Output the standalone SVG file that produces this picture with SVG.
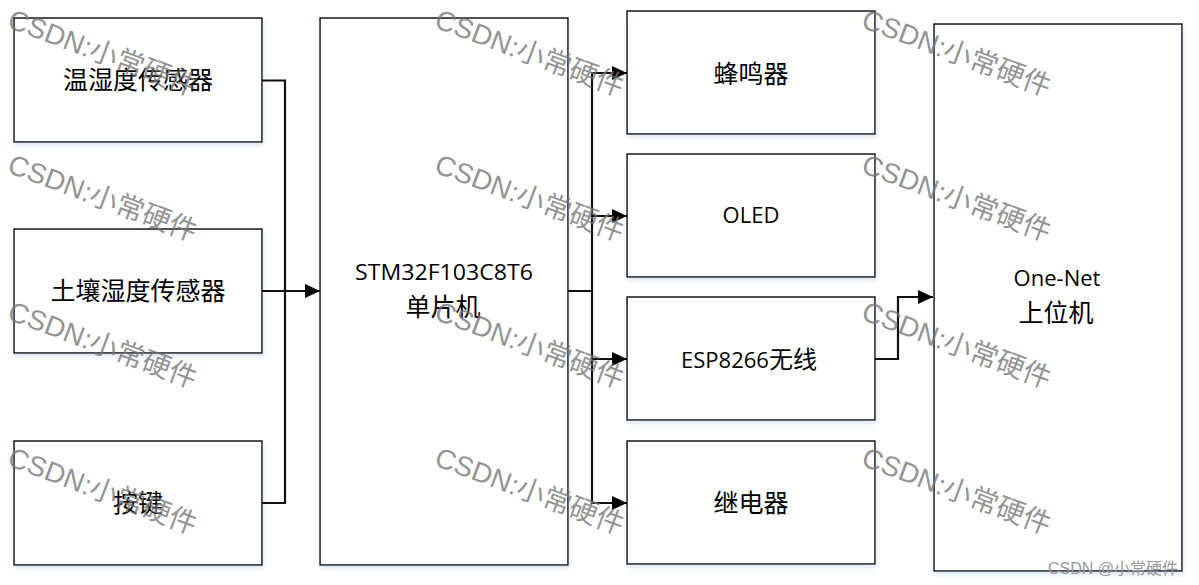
<svg xmlns="http://www.w3.org/2000/svg" width="1199" height="585" viewBox="0 0 1199 585">
<style>
.box{fill:#fff;stroke:#000;stroke-width:1.4;filter:url(#sh)}
.t{font-family:"Open Sans","Noto Sans CJK SC",sans-serif;font-size:22px;fill:#000;text-anchor:middle}
.c{font-family:"Noto Sans CJK SC",sans-serif;font-size:25px;fill:#000;text-anchor:middle}
.cj{font-family:"Noto Sans CJK SC",sans-serif;font-size:24px}
.ln{fill:none;stroke:#111;stroke-width:2.2}
.ar{fill:none;stroke:#111;stroke-width:2.2;marker-end:url(#ah)}
.wm{font-family:"Liberation Sans","Noto Sans CJK SC",sans-serif;font-size:28px;fill:#777;fill-opacity:0.8}
.ft{font-family:"Liberation Sans","Noto Sans CJK SC",sans-serif;font-size:16px;fill:#999}
</style>
<defs>
<filter id="sh" x="-10%" y="-10%" width="120%" height="120%">
<feDropShadow dx="1" dy="3" stdDeviation="2" flood-color="#9bb8d8" flood-opacity="0.35"/>
</filter>
<marker id="ah" markerUnits="userSpaceOnUse" markerWidth="16" markerHeight="15" refX="15" refY="7" orient="auto">
<path d="M0,0 L15,7 L0,14 z" fill="#000"/>
</marker>
</defs>
<rect width="1199" height="585" fill="#fff"/>
<g id="sensor-th"><rect class="box" x="14" y="18" width="248" height="124"/><text class="c" x="138" y="89">温湿度传感器</text></g>
<g id="sensor-soil"><rect class="box" x="14" y="229" width="248" height="124"/><text class="c" x="138" y="300">土壤湿度传感器</text></g>
<g id="key"><rect class="box" x="14" y="441" width="248" height="124"/><text class="c" x="138" y="512">按键</text></g>
<g id="mcu"><rect class="box" x="320" y="18" width="248" height="547"/><text class="t" x="444" y="280" textLength="178" lengthAdjust="spacingAndGlyphs">STM32F103C8T6</text><text class="c" x="443" y="316">单片机</text></g>
<g id="buzzer"><rect class="box" x="627" y="11" width="248" height="123"/><text class="c" x="751" y="83">蜂鸣器</text></g>
<g id="oled"><rect class="box" x="627" y="154" width="248" height="123"/><text class="t" x="751" y="223">OLED</text></g>
<g id="esp"><rect class="box" x="627" y="297" width="248" height="123"/><text class="t" x="749" y="368">ESP8266<tspan class="cj">无线</tspan></text></g>
<g id="relay"><rect class="box" x="627" y="441" width="248" height="123"/><text class="c" x="751" y="512">继电器</text></g>
<g id="onenet"><rect class="box" x="934" y="24" width="248" height="547"/><text class="t" x="1057" y="286">One-Net</text><text class="c" x="1056" y="322">上位机</text></g>
<g id="connectors">
<path class="ln" d="M262,80.5 H285 V503 H262"/>
<path class="ar" d="M262,291 H320"/>
<path class="ln" d="M568,291 H592 M592,72 V504"/>
<path class="ar" d="M592,73 H627"/>
<path class="ar" d="M592,216 H627"/>
<path class="ar" d="M592,359 H627"/>
<path class="ar" d="M592,503 H627"/>
<path class="ar" d="M875,359 H898 V297 H933"/>
</g>
<g id="watermarks">
<text class="wm" transform="translate(6,27) rotate(20.5)">CSDN:小常硬件</text>
<text class="wm" transform="translate(6,172) rotate(20.5)">CSDN:小常硬件</text>
<text class="wm" transform="translate(6,319) rotate(20.5)">CSDN:小常硬件</text>
<text class="wm" transform="translate(6,465) rotate(20.5)">CSDN:小常硬件</text>
<text class="wm" transform="translate(433,27) rotate(20.5)">CSDN:小常硬件</text>
<text class="wm" transform="translate(433,172) rotate(20.5)">CSDN:小常硬件</text>
<text class="wm" transform="translate(433,319) rotate(20.5)">CSDN:小常硬件</text>
<text class="wm" transform="translate(433,465) rotate(20.5)">CSDN:小常硬件</text>
<text class="wm" transform="translate(860,27) rotate(20.5)">CSDN:小常硬件</text>
<text class="wm" transform="translate(860,172) rotate(20.5)">CSDN:小常硬件</text>
<text class="wm" transform="translate(860,319) rotate(20.5)">CSDN:小常硬件</text>
<text class="wm" transform="translate(860,465) rotate(20.5)">CSDN:小常硬件</text>
<text class="ft" x="1048" y="574">CSDN @小常硬件</text>
</g>
</svg>
